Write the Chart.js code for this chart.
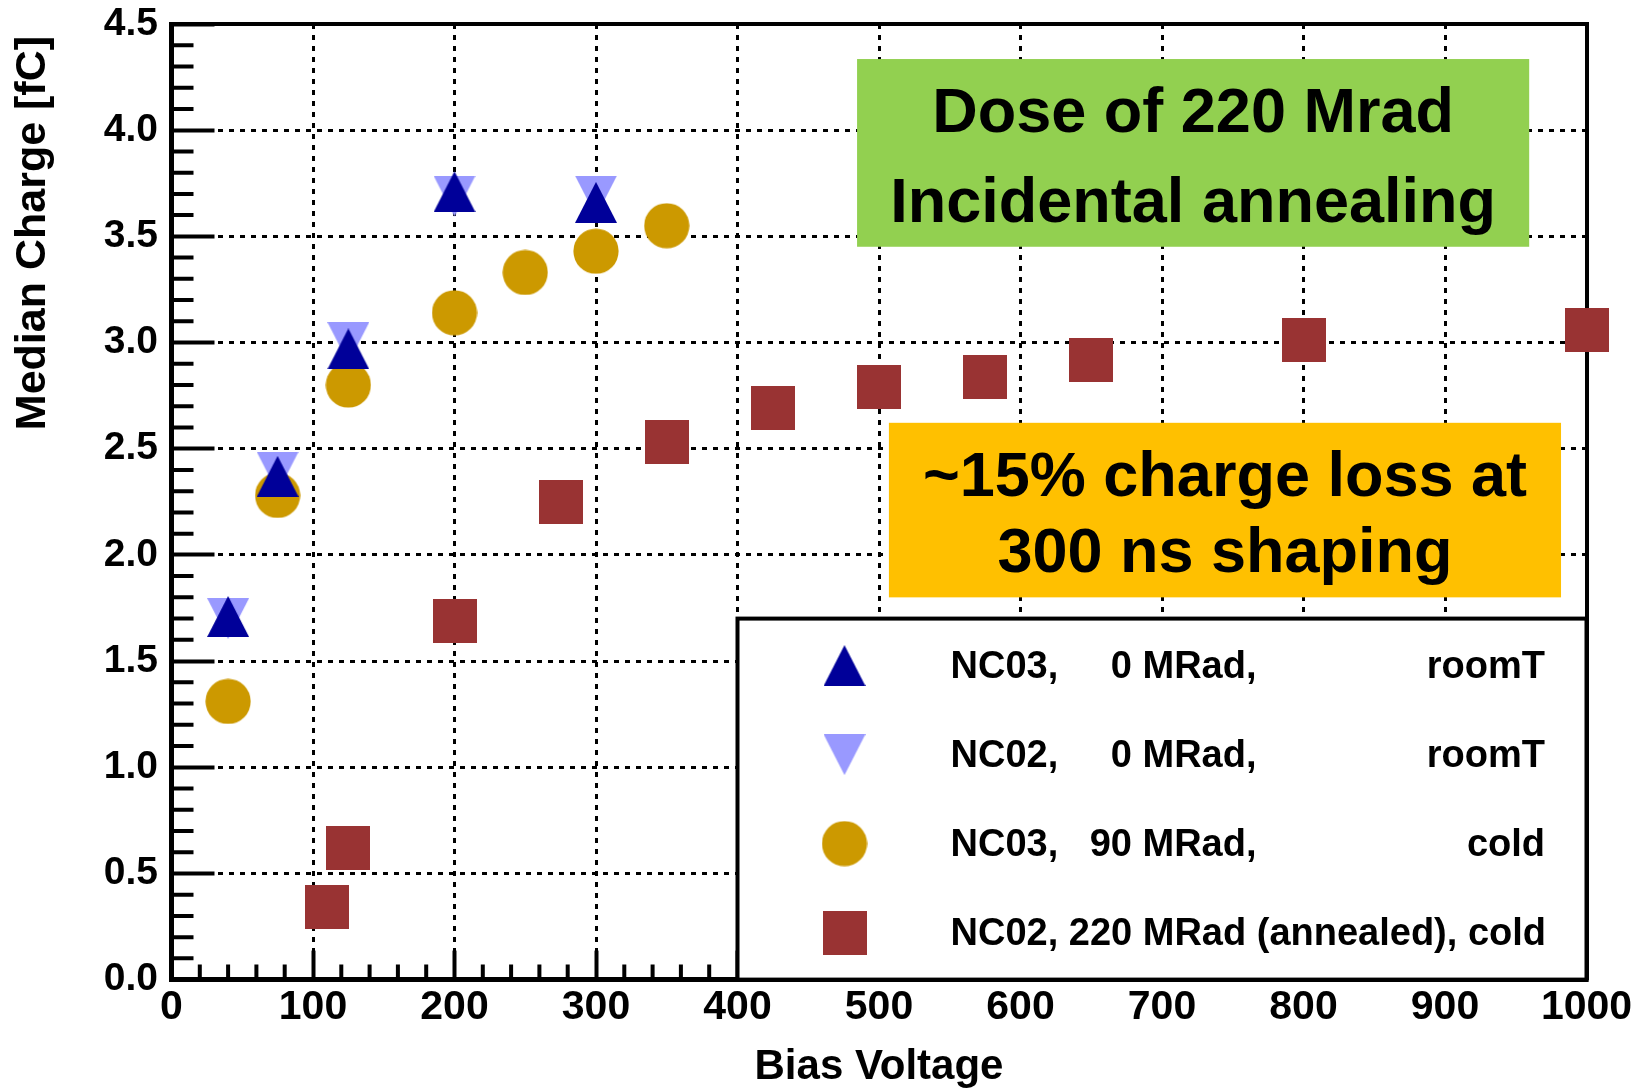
<!DOCTYPE html>
<html lang="en">
<head>
    <meta charset="UTF-8">
    <title>Median Charge vs Bias Voltage</title>
    <script src="https://cdn.jsdelivr.net/npm/chart.js"></script>
    <style>
        html, body { margin: 0; padding: 0; background: #fff; }
        #myChart { display: block; }
    </style>
</head>
<body>
    <canvas id="myChart" width="1641" height="1091"></canvas>

    <script>
    // Values (x = bias voltage, y = median charge in fC)
    const nc03RoomV = [40, 75, 125, 200, 300];
    const nc03RoomQ = [1.71, 2.37, 2.97, 3.71, 3.66];
    const nc02RoomV = [40, 75, 125, 200, 300];
    const nc02RoomQ = [1.70, 2.39, 3.00, 3.69, 3.69];
    const nc03ColdV = [40, 75, 125, 200, 250, 300, 350];
    const nc03ColdQ = [1.31, 2.28, 2.80, 3.14, 3.33, 3.43, 3.55];
    const nc02AnnV = [110, 125, 200, 275, 350, 425, 500, 575, 650, 800, 1000];
    const nc02AnnQ = [0.34, 0.62, 1.69, 2.25, 2.53, 2.69, 2.79, 2.84, 2.92, 3.01, 3.06];

    // Legend text, in three columns
    const legendSample = ['NC03,', 'NC02,', 'NC03,', 'NC02,'];
    const legendDose = ['0 MRad,', '0 MRad,', '90 MRad,', '220 MRad (annealed),'];
    const legendTemp = ['roomT', 'roomT', 'cold', 'cold'];

    // Text of the two coloured notes
    const noteGreen = ['Dose of 220 Mrad', 'Incidental annealing'];
    const noteOrange = ['~15% charge loss at', '300 ns shaping'];

    const xMajor = 100, xMinor = 20;
    const yMajor = 0.5, yMinor = 0.1;

    const FONT = "'Liberation Sans', Arial, Helvetica, sans-serif";
    Chart.defaults.font.family = FONT;
    Chart.defaults.color = '#000';

    // ROOT-like filled markers, drawn once into small canvases
    function marker(w, h, color, path) {
        const c = document.createElement('canvas');
        c.width = w;
        c.height = h;
        const g = c.getContext('2d');
        g.fillStyle = color;
        g.beginPath();
        path(g, w, h);
        g.fill();
        return c;
    }
    const triUp = marker(42, 41, '#000099', (g, w, h) => { g.moveTo(w / 2, 0); g.lineTo(w, h); g.lineTo(0, h); g.closePath(); });
    const triDown = marker(42, 41, '#9999ff', (g, w, h) => { g.moveTo(0, 0); g.lineTo(w, 0); g.lineTo(w / 2, h); g.closePath(); });
    const dot = marker(46, 46, '#cc9900', (g, w, h) => { g.arc(w / 2, h / 2, 22.6, 0, 2 * Math.PI); });
    const square = marker(44, 44, '#993333', (g, w, h) => { g.rect(0, 0, w, h); });

    function toPoints(xs, ys) {
        return xs.map((v, i) => ({ x: v, y: ys[i] }));
    }

    // fixed axis box sizes; drop the label overhang padding so the frame sits where it should
    function fixSize(size) {
        return s => {
            if (s.isHorizontal()) s.height = size; else s.width = size;
            s.paddingTop = s.paddingBottom = s.paddingLeft = s.paddingRight = 0;
        };
    }

    // Boxes placed in data coordinates
    const notes = [
        { x0: 484.5, x1: 959.5, y0: 4.335, y1: 3.451, fill: '#92d050', lines: noteGreen, base: [73, 163] },
        { x0: 507, x1: 982, y0: 2.622, y1: 1.80, fill: '#ffc000', lines: noteOrange, base: [73, 149] }
    ];
    const legendBox = { x0: 400, x1: 1000, y0: 1.70, y1: 0 };

    // minor ticks, the two text boxes and the legend
    const decorations = {
        id: 'decorations',
        beforeDatasetsDraw(chart) {
            const { ctx, chartArea, scales: { x, y } } = chart;
            ctx.save();

            // minor ticks (inward, like ROOT)
            ctx.strokeStyle = '#000';
            ctx.lineWidth = 4;
            ctx.beginPath();
            for (let i = 1; i * xMinor < x.max; i++) {
                if ((i * xMinor) % xMajor === 0) continue;
                const px = x.getPixelForValue(i * xMinor);
                ctx.moveTo(px, chartArea.bottom);
                ctx.lineTo(px, chartArea.bottom - 15);
            }
            for (let i = 1; i * yMinor < y.max - 1e-9; i++) {
                if (i % Math.round(yMajor / yMinor) === 0) continue;
                const py = y.getPixelForValue(i * yMinor);
                ctx.moveTo(chartArea.left, py);
                ctx.lineTo(chartArea.left + 22, py);
            }
            ctx.stroke();

            // coloured notes
            notes.forEach(n => {
                const l = x.getPixelForValue(n.x0), r = x.getPixelForValue(n.x1);
                const t = y.getPixelForValue(n.y0), b = y.getPixelForValue(n.y1);
                ctx.fillStyle = n.fill;
                ctx.fillRect(l, t, r - l, b - t);
                ctx.fillStyle = '#000';
                ctx.font = 'bold 63px ' + FONT;
                ctx.textAlign = 'center';
                ctx.textBaseline = 'alphabetic';
                n.lines.forEach((s, i) => ctx.fillText(s, (l + r) / 2, t + n.base[i]));
            });

            // legend
            const L = x.getPixelForValue(legendBox.x0), R = x.getPixelForValue(legendBox.x1);
            const T = y.getPixelForValue(legendBox.y0), B = y.getPixelForValue(legendBox.y1);
            ctx.fillStyle = '#fff';
            ctx.fillRect(L, T, R - L, B - T);
            ctx.lineWidth = 4;
            ctx.strokeStyle = '#000';
            ctx.strokeRect(L, T, R - L, B - T);

            ctx.font = 'bold 38px ' + FONT;
            ctx.fillStyle = '#000';
            ctx.textBaseline = 'alphabetic';
            chart.data.datasets.forEach((ds, i) => {
                const cy = T + 47 + i * 89;
                const img = ds.pointStyle;
                ctx.drawImage(img, L + 107 - img.width / 2, cy - img.height / 2);

                const tx = L + 213, doseRight = L + 519, tempRight = R - 41.5;
                const sampleEnd = tx + ctx.measureText(legendSample[i] + ' ').width;
                const doseW = ctx.measureText(legendDose[i]).width;
                ctx.textAlign = 'left';
                if (doseRight - doseW < sampleEnd) {
                    ctx.fillText(legendSample[i] + ' ' + legendDose[i] + ' ' + legendTemp[i], tx, cy + 12.5);
                } else {
                    ctx.fillText(legendSample[i], tx, cy + 12.5);
                    ctx.textAlign = 'right';
                    ctx.fillText(legendDose[i], doseRight, cy + 12.5);
                    ctx.fillText(legendTemp[i], tempRight, cy + 12.5);
                }
            });
            ctx.restore();
        }
    };

    const ctx = document.getElementById('myChart').getContext('2d');
    const myChart = new Chart(ctx, {
        type: 'scatter',
        data: {
            datasets: [
                { label: 'NC03, 0 MRad, roomT', data: toPoints(nc03RoomV, nc03RoomQ), pointStyle: triUp, pointRadius: 21, clip: false },
                { label: 'NC02, 0 MRad, roomT', data: toPoints(nc02RoomV, nc02RoomQ), pointStyle: triDown, pointRadius: 21, clip: false },
                { label: 'NC03, 90 MRad, cold', data: toPoints(nc03ColdV, nc03ColdQ), pointStyle: dot, pointRadius: 22, clip: false },
                { label: 'NC02, 220 MRad (annealed), cold', data: toPoints(nc02AnnV, nc02AnnQ), pointStyle: square, pointRadius: 22, clip: false }
            ]
        },
        options: {
            responsive: false,
            animation: false,
            events: [],
            layout: { padding: { top: 24, right: 54.5, left: 0, bottom: 0 } },
            plugins: {
                legend: { display: false },
                tooltip: { enabled: false }
            },
            scales: {
                x: {
                    type: 'linear',
                    position: 'bottom',
                    min: 0,
                    max: 1000,
                    afterFit: fixSize(111.4),
                    ticks: {
                        stepSize: xMajor,
                        autoSkip: false,
                        maxRotation: 0,
                        padding: 32,
                        font: { size: 41, weight: 'bold' },
                        callback: v => String(v)
                    },
                    grid: { color: '#000', lineWidth: 3, tickLength: -29, tickWidth: 4, tickColor: '#000' },
                    border: { color: '#000', width: 5, dash: [5, 6] },
                    title: {
                        display: true,
                        text: 'Bias Voltage',
                        font: { size: 42, weight: 'bold' },
                        padding: { top: 0, bottom: -2 }
                    }
                },
                y: {
                    type: 'linear',
                    position: 'left',
                    min: 0,
                    max: 4.5,
                    afterFit: fixSize(171.5),
                    ticks: {
                        stepSize: yMajor,
                        padding: 56.5,
                        font: { size: 39, weight: 'bold' },
                        callback: v => v.toFixed(1)
                    },
                    grid: { color: '#000', lineWidth: 3, tickLength: -43, tickWidth: 4, tickColor: '#000' },
                    border: { color: '#000', width: 5, dash: [5, 6] },
                    title: {
                        display: true,
                        // trailing no-break space nudges the end of the title below the frame top
                        text: 'Median Charge [fC]\u00a0',
                        align: 'end',
                        font: { size: 43, weight: 'bold' },
                        padding: { top: 7, bottom: 0 }
                    }
                },
                // top and right frame lines
                x2: {
                    type: 'linear',
                    position: 'top',
                    min: 0,
                    max: 1000,
                    afterFit: fixSize(0),
                    ticks: { display: false },
                    grid: { display: false, drawTicks: false },
                    border: { color: '#000', width: 4 }
                },
                y2: {
                    type: 'linear',
                    position: 'right',
                    min: 0,
                    max: 4.5,
                    afterFit: fixSize(0),
                    ticks: { display: false },
                    grid: { display: false, drawTicks: false },
                    border: { color: '#000', width: 4 }
                }
            }
        },
        plugins: [decorations]
    });
    </script>
</body>
</html>
